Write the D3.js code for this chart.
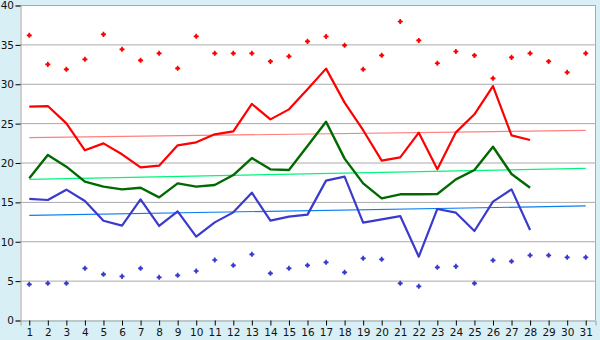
<!DOCTYPE html>
<html><head><meta charset="utf-8">
<script src="https://cdn.jsdelivr.net/npm/d3@7"></script>
<style>body{margin:0;background:#D9EFF6;}svg{display:block;}</style>
</head><body>
<svg id="c" width="600" height="340"></svg>
<script>
const days = d3.range(1, 32).map(String);
const yTicks = [0, 5, 10, 15, 20, 25, 30, 35, 40];
const maxRecord = [36.15,32.46,31.83,33.1,36.27,34.37,32.97,33.86,31.96,36.02,33.86,33.86,33.86,32.84,33.48,35.38,36.0,34.88,31.83,33.61,37.9,35.5,32.6,34.1,33.6,30.69,33.35,33.86,32.84,31.45,33.86];
const minRecord = [4.53,4.66,4.66,6.56,5.8,5.54,6.56,5.42,5.67,6.22,7.62,6.94,8.34,5.93,6.56,6.94,7.32,6.05,7.83,7.7,4.66,4.28,6.69,6.81,4.66,7.58,7.45,8.21,8.21,7.96,7.96];
const highs = [27.1,27.17,24.97,21.55,22.43,21.04,19.39,19.6,22.18,22.56,23.58,23.96,27.43,25.48,26.75,29.29,31.92,27.6,24.1,20.23,20.66,23.79,19.13,23.83,26.12,29.71,23.45,22.86];
const means = [17.99,20.95,19.47,17.57,16.93,16.59,16.8,15.57,17.35,16.93,17.14,18.41,20.57,19.13,19.05,22.1,25.18,20.49,17.35,15.45,15.96,15.96,16.0,17.86,19.05,22.0,18.54,16.8];
const lows = [15.37,15.24,16.55,15.11,12.61,11.98,15.32,11.94,13.8,10.58,12.4,13.67,16.17,12.61,13.12,13.38,17.7,18.2,12.36,12.78,13.2,8.04,14.1,13.63,11.3,15.03,16.59,11.43];
const trendHigh = [23.15, 24.08];
const trendMean = [17.86, 19.26];
const trendLow = [13.29, 14.48];

const svg = d3.select("#c");
const L = 20, R = 595, T = 5, B = 320;
const x = d3.scaleBand().domain(days).range([L, R]);
const cx = d => x(d) + x.bandwidth() / 2;
const y = d3.scaleLinear().domain([0, 40]).range([B, T]);

svg.append("rect").attr("x", L).attr("y", T).attr("width", R - L).attr("height", B - T).attr("fill", "#fff");
svg.append("g").selectAll("line").data(yTicks.filter(v => v > 0)).join("line")
  .attr("x1", L).attr("x2", R).attr("y1", d => y(d) + 0.5).attr("y2", d => y(d) + 0.5)
  .attr("stroke", "#AAAAAA").attr("stroke-width", 1);
svg.append("line").attr("x1", R + 0.5).attr("x2", R + 0.5).attr("y1", T).attr("y2", B).attr("stroke", "#AAAAAA");

const ya = svg.append("g").attr("transform", `translate(${L + 0.5},0.5)`)
  .call(d3.axisLeft(y).tickValues(yTicks).tickSize(5).tickPadding(1.5));
const xa = svg.append("g").attr("transform", `translate(0.5,${B + 0.5})`)
  .call(d3.axisBottom(x).tickSize(5).tickPadding(3));
[ya, xa].forEach(g => {
  g.select(".domain").attr("stroke", "#A0A0A0");
  g.selectAll(".tick line").attr("stroke", "#000");
  g.selectAll("text").attr("font-family", "DejaVu Sans, Verdana, sans-serif").attr("font-size", 10.5).attr("fill", "#111");
});
ya.selectAll("text").attr("font-size", 10.5).attr("textLength", null);

function trend(vals, color) {
  svg.append("line").attr("x1", cx(days[0])).attr("x2", cx(days[days.length - 1]))
    .attr("y1", y(vals[0])).attr("y2", y(vals[1])).attr("stroke", color).attr("stroke-width", 1.2);
}
trend(trendHigh, "#FF7F7F");
trend(trendMean, "#00F57A");
trend(trendLow, "#0A7FF0");

const line = d3.line().x((d, i) => cx(days[i])).y(d => y(d));
function series(vals, color, w) {
  svg.append("path").datum(vals).attr("d", line).attr("fill", "none")
    .attr("stroke", color).attr("stroke-width", w).attr("stroke-linejoin", "round");
}
series(highs, "#FF0000", 2.2);
series(means, "#006A00", 2.4);
series(lows, "#3A3ACC", 2.2);

function markers(vals, color) {
  const g = svg.append("g");
  g.selectAll("path.c").data(vals).join("path").attr("class", "c")
    .attr("d", d3.symbol().type(d3.symbolCross).size(14))
    .attr("transform", (d, i) => `translate(${cx(days[i])},${y(d)})`).attr("fill", color);
  g.selectAll("path.d").data(vals).join("path").attr("class", "d")
    .attr("d", d3.symbol().type(d3.symbolSquare).size(7))
    .attr("transform", (d, i) => `translate(${cx(days[i])},${y(d)})`).attr("fill", color);
}
markers(maxRecord, "#FF0000");
markers(minRecord, "#3A3ACC");
</script>
</body></html>
